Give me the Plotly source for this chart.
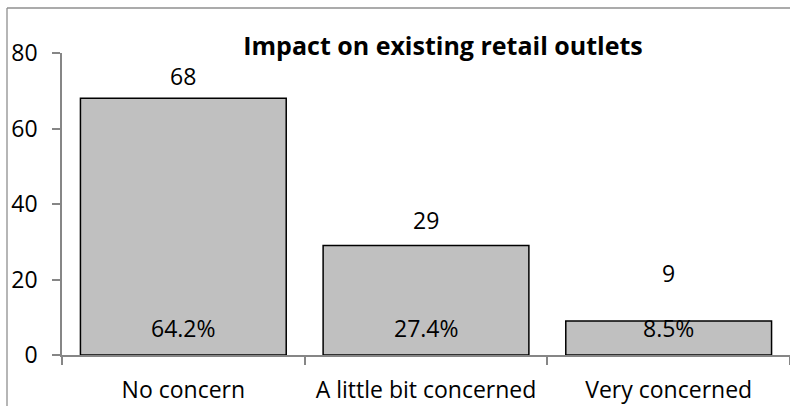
import plotly.graph_objects as go

categories = ["No concern", "A little bit concerned", "Very concerned"]
counts = [68, 29, 9]
y_ticks = [0, 20, 40, 60, 80]

total = sum(counts)
pct_labels = [f"{c / total * 100:.1f}%" for c in counts]

# pixel offsets of count labels above bar tops (style)
count_label_shift = [22, 26, 48]
pct_label_shift = 27

W, H = 790, 406
ML, MR, MT, MB = 62, 0, 53, 51
FONT = "Open Sans"
FS = 23

fig = go.Figure()
fig.add_trace(go.Bar(
    x=categories, y=counts,
    marker=dict(color="#c0c0c0", line=dict(color="#000000", width=1.5)),
    hoverinfo="x+y",
))

annotations = []
for cat, v, s in zip(categories, counts, count_label_shift):
    annotations.append(dict(x=cat, y=v, xref="x", yref="y", text=str(v),
                            showarrow=False, yanchor="middle", yshift=s,
                            font=dict(family=FONT, size=FS, color="#000")))
for cat, t in zip(categories, pct_labels):
    annotations.append(dict(x=cat, y=0, xref="x", yref="y", text=t,
                            showarrow=False, yanchor="middle", yshift=pct_label_shift,
                            font=dict(family=FONT, size=FS, color="#000")))

pw = W - ML - MR
ph = H - MT - MB
bx = (7 - ML) / pw
by = 1 + (MT - 8) / ph
shapes = [
    dict(type="line", xref="paper", yref="paper", x0=bx, x1=1.05, y0=by, y1=by,
         line=dict(color="#8f8f8f", width=1.3)),
    dict(type="line", xref="paper", yref="paper", x0=bx, x1=bx, y0=by, y1=-0.5,
         line=dict(color="#8f8f8f", width=1.3)),
]

fig.update_layout(
    width=W, height=H,
    margin=dict(l=ML, r=MR, t=MT, b=MB, autoexpand=False),
    paper_bgcolor="white", plot_bgcolor="white",
    bargap=0.152,
    showlegend=False,
    title=dict(text="<b>Impact on existing retail outlets</b>", x=443 / W, xref="container",
               xanchor="center", y=1 - 46 / H, yref="container", yanchor="middle",
               font=dict(family=FONT, size=25, color="#000")),
    font=dict(family=FONT, size=FS, color="#000"),
    annotations=annotations,
    shapes=shapes,
)
fig.update_yaxes(range=[0, 80], tickvals=y_ticks, showgrid=False, zeroline=False,
                 showline=True, linecolor="#868686", linewidth=1.5,
                 ticks="outside", ticklen=8, tickcolor="#868686", tickwidth=1.5,
                 ticklabelstandoff=10, tickfont=dict(family=FONT, size=FS, color="#000"))
fig.update_xaxes(showgrid=False, showline=True, linecolor="#868686", linewidth=1.5,
                 ticks="outside", tickson="boundaries", ticklen=8, tickcolor="#868686",
                 tickwidth=1.5, ticklabelstandoff=14,
                 tickfont=dict(family=FONT, size=FS, color="#000"))

fig.write_html("out.html", config={"displayModeBar": False},
               post_script="document.body.style.margin='0';")
